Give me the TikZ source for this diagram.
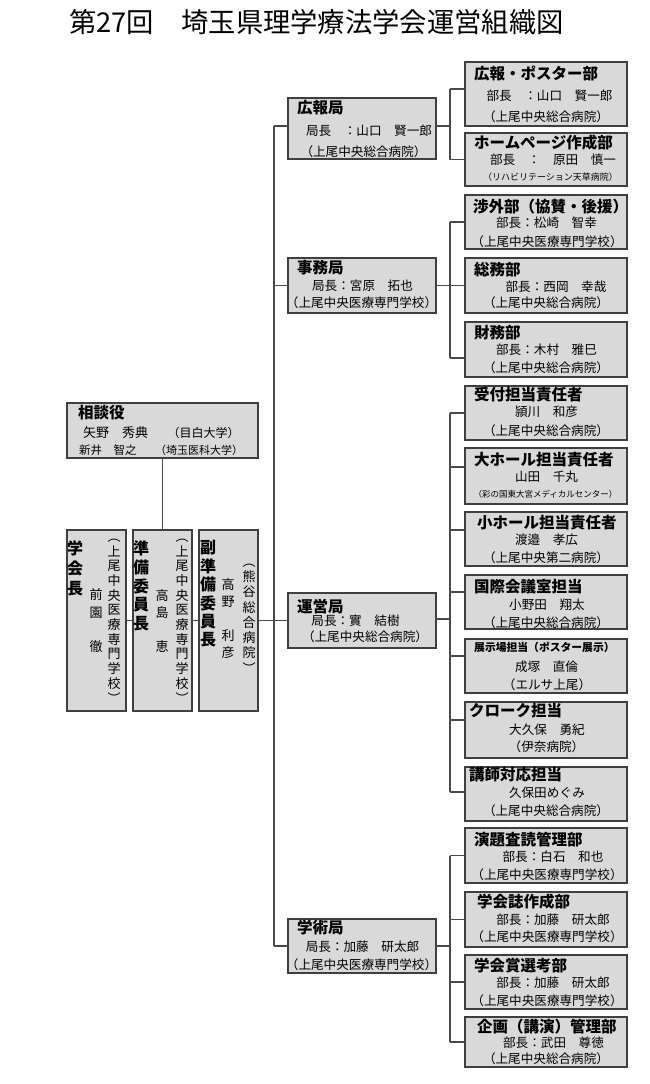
\documentclass[tikz,border=0pt]{standalone}
\usepackage{fontspec}
\setmainfont{Noto Sans CJK JP}
\definecolor{boxfill}{HTML}{D9D9D9}
\definecolor{boxline}{HTML}{3F3F3F}
\definecolor{conline}{HTML}{4A4A4A}
\newcommand\orgbox[5]{\node[orgb, minimum width={(#4-#2)*1pt}, minimum height={(#5-#3)*1pt}] (#1) at ({(#2+#4)/2},{(#3+#5)/2}) {};}
\newcommand\kid[2]{\coordinate (#1c) at ([yshift=#2pt]#1.west); \draw[conn] (#1c -| brx) -- (#1c);}
\tikzset{
  orgb/.style={draw=boxline, fill=boxfill, line width=1.2pt, inner sep=0pt, outer sep=0pt},
  hd/.style={anchor=west, inner sep=0pt, font=\bfseries\fontsize{15.5}{18}\selectfont, text height=13.4pt, text depth=2.1pt},
  hdsm/.style={anchor=west, inner sep=0pt, font=\bfseries\fontsize{10.8}{13}\selectfont, text height=9.4pt, text depth=1.5pt},
  bd/.style={inner sep=0pt, font=\fontsize{12.6}{15}\selectfont, text height=10.9pt, text depth=1.8pt},
  bdsm/.style={inner sep=0pt, font=\fontsize{9}{11}\selectfont, text height=7.8pt, text depth=1.3pt},
  bdxs/.style={inner sep=0pt, font=\fontsize{8.5}{10}\selectfont, text height=7.4pt, text depth=1.2pt},
  vt/.style={inner sep=0pt, align=center},
  conn/.style={draw=conline, line width=1.2pt},
}
\begin{document}
\begin{tikzpicture}[x=1pt, y=-1pt]
\useasboundingbox (0,0) rectangle (650,1084);
\node[anchor=west, inner sep=0pt, font=\fontsize{27.3}{30}\selectfont] (title) at (69,22) {第27回　埼玉県理学療法学会運営組織図};

% boxes
\orgbox{kp}{465}{62}{627}{126}
\orgbox{hp}{465}{133}{627}{186}
\orgbox{sg}{465}{195}{627}{249}
\orgbox{so}{465}{258}{627}{313}
\orgbox{zm}{465}{322}{627}{377}
\orgbox{uk}{465}{386}{627}{440}
\orgbox{dh}{465}{448}{627}{504}
\orgbox{sh}{465}{512}{627}{566}
\orgbox{kk}{465}{575}{627}{629}
\orgbox{tj}{465}{639}{627}{693}
\orgbox{ck}{465}{702}{627}{758}
\orgbox{ks}{465}{767}{627}{821}
\orgbox{en}{465}{828}{627}{883}
\orgbox{gs}{465}{892}{627}{947}
\orgbox{gh}{465}{955}{627}{1009}
\orgbox{kg}{465}{1017}{627}{1067}
\orgbox{koho}{288}{98}{436}{159}
\orgbox{jimu}{288}{258}{436}{313}
\orgbox{unei}{288}{593}{436}{648}
\orgbox{gaku}{288}{919}{436}{973}
\orgbox{sodan}{67}{403}{258}{458}
\orgbox{kaicho}{67}{530}{126}{711}
\orgbox{junbi}{133}{530}{192}{711}
\orgbox{fuku}{199}{530}{258}{711}

% connectors
\coordinate (spine) at (274,0);
\coordinate (brx) at (450,0);
\coordinate (kohoc) at ([yshift=2.5pt]koho.west);
\coordinate (kohoe) at ([yshift=2.5pt]koho.east);
\coordinate (jimuc) at (jimu.west);
\coordinate (uneic) at ([yshift=1.5pt]unei.west);
\coordinate (uneie) at ([yshift=1.5pt]unei.east);
\coordinate (gakuc) at (gaku.west);
\draw[conn] (kohoc -| spine) -- (gakuc -| spine);
\draw[conn] (kohoc) -- (kohoc -| spine);
\draw[conn] (jimuc) -- (jimuc -| spine);
\draw[conn] (gakuc) -- (gakuc -| spine);
\draw[conn] (fuku.east) -- (unei.west);
\draw[conn] (kaicho.east) -- (junbi.west);
\draw[conn] (junbi.east) -- (fuku.west);
\draw[conn] (sodan.south) -- (junbi.north);

\kid{kp}{5}\kid{hp}{0}
\draw[conn] (kohoe) -- (kohoe -| brx);
\draw[conn] (kpc -| brx) -- (hpc -| brx);
\kid{sg}{0}\kid{so}{0}\kid{zm}{-8.5}
\draw[conn] (jimu.east) -- (jimu.east -| brx);
\draw[conn] (sgc -| brx) -- (zmc -| brx);
\kid{uk}{0}\kid{dh}{9}\kid{sh}{9}\kid{kk}{10}\kid{tj}{10}\kid{ck}{10}\kid{ks}{2}
\draw[conn] (uneie) -- (uneie -| brx);
\draw[conn] (ukc -| brx) -- (ksc -| brx);
\kid{en}{0}\kid{gs}{0}\kid{gh}{0}\kid{kg}{0}
\draw[conn] (gaku.east) -- (gaku.east -| brx);
\draw[conn] (enc -| brx) -- (kgc -| brx);

% texts: right column
\node[hd] (kp1) at (474,74) {広報・ポスター部};
\node[bd] (kp2) at (549.5,96) {部長　：山口　賢一郎};
\node[bd] (kp3) at (546,117) {（上尾中央総合病院）};
\node[hd] (hp1) at (474,143) {ホームページ作成部};
\node[bd] (hp2) at (553,160) {部長　：　原田　慎一};
\node[bdsm] (hp3) at (550.5,177) {（リハビリテーション天草病院）};
\node[hd] (sg1) at (473,207) {渉外部（協賛・後援）};
\node[bd] (sg2) at (546.5,223) {部長：松崎　智幸};
\node[bd] (sg3) at (547,242) {（上尾中央医療専門学校）};
\node[hd] (so1) at (474,270) {総務部};
\node[bd] (so2) at (556,287) {部長：西岡　幸哉};
\node[bd] (so3) at (546,303) {（上尾中央総合病院）};
\node[hd] (zm1) at (474,333) {財務部};
\node[bd] (zm2) at (546.5,350) {部長：木村　雅巳};
\node[bd] (zm3) at (546,368) {（上尾中央総合病院）};
\node[hd] (uk1) at (474,395) {受付担当責任者};
\node[bd] (uk2) at (546.5,412) {頴川　和彦};
\node[bd] (uk3) at (546,431) {（上尾中央総合病院）};
\node[hd] (dh1) at (474,460) {大ホール担当責任者};
\node[bd] (dh2) at (546.5,477) {山田　千丸};
\node[bdxs] (dh3) at (545.5,494) {（彩の国東大宮メディカルセンター）};
\node[hd] (sh1) at (477,523) {小ホール担当責任者};
\node[bd] (sh2) at (546.5,540) {渡邉　孝広};
\node[bd] (sh3) at (546,558) {（上尾中央第二病院）};
\node[hd] (kk1) at (474,587) {国際会議室担当};
\node[bd] (kk2) at (547,605) {小野田　翔太};
\node[bd] (kk3) at (546,623) {（上尾中央総合病院）};
\node[hdsm] (tj1) at (474,648) {展示場担当（ポスター展示）};
\node[bd] (tj2) at (546.5,667) {成塚　直倫};
\node[bd] (tj3) at (547,685) {（エルサ上尾）};
\node[hd] (ck1) at (469,711) {クローク担当};
\node[bd] (ck2) at (547,730) {大久保　勇紀};
\node[bd] (ck3) at (546.5,747) {（伊奈病院）};
\node[hd] (ks1) at (469,775) {講師対応担当};
\node[bd] (ks2) at (547,793) {久保田めぐみ};
\node[bd] (ks3) at (546,811) {（上尾中央総合病院）};
\node[hd] (en1) at (474,840) {演題査読管理部};
\node[bd] (en2) at (553,857) {部長：白石　和也};
\node[bd] (en3) at (547,875) {（上尾中央医療専門学校）};
\node[hd] (gs1) at (477,902) {学会誌作成部};
\node[bd] (gs2) at (553,920) {部長：加藤　研太郎};
\node[bd] (gs3) at (547,937) {（上尾中央医療専門学校）};
\node[hd] (gh1) at (474,966) {学会賞選考部};
\node[bd] (gh2) at (553,983) {部長：加藤　研太郎};
\node[bd] (gh3) at (547,1001) {（上尾中央医療専門学校）};
\node[hd] (kg1) at (477,1027) {企画（講演）管理部};
\node[bd] (kg2) at (553.5,1043) {部長：武田　尊徳};
\node[bd] (kg3) at (546,1059) {（上尾中央総合病院）};

% middle column
\node[hd] (ko1) at (297,108) {広報局};
\node[bd] (ko2) at (369,131) {局長　：山口　賢一郎};
\node[bd] (ko3) at (363.5,152) {（上尾中央総合病院）};
\node[hd] (ji1) at (297,268) {事務局};
\node[bd] (ji2) at (362.5,286) {局長：宮原　拓也};
\node[bd] (ji3) at (361.5,303) {（上尾中央医療専門学校）};
\node[hd] (un1) at (297,607) {運営局};
\node[bd] (un2) at (355.5,621) {局長：實　結樹};
\node[bd] (un3) at (365,637) {（上尾中央総合病院）};
\node[hd] (ga1) at (297,928) {学術局};
\node[bd] (ga2) at (362.5,947) {局長：加藤　研太郎};
\node[bd] (ga3) at (361.5,965) {（上尾中央医療専門学校）};

% left
\node[hd] (so0) at (78,413) {相談役};
\node[bd, anchor=west, font=\fontsize{13}{15}\selectfont] (sd1) at (83,433) {矢野　秀典};
\node[bd, font=\fontsize{12}{14}\selectfont] (sd2) at (203.5,433) {（目白大学）};
\node[bd, anchor=west, font=\fontsize{11.5}{14}\selectfont] (sd3) at (79,450) {新井　智之};
\node[bd, font=\fontsize{11}{13}\selectfont] (sd4) at (199,450) {（埼玉医科大学）};

\node[vt, font=\bfseries\fontsize{16}{20}\selectfont] (kc1) at (75,568) {学\\会\\長};
\node[vt, font=\fontsize{13}{17.3}\selectfont] (kc2) at (96,621) {前\\園\\　\\徹};
\node[vt, font=\fontsize{13}{14.7}\selectfont] (kc3) at (114,621) {︵\\上\\尾\\中\\央\\医\\療\\専\\門\\学\\校\\︶};
\node[vt, font=\bfseries\fontsize{16}{18.75}\selectfont] (jb1) at (141,586) {準\\備\\委\\員\\長};
\node[vt, font=\fontsize{13}{17.3}\selectfont] (jb2) at (162,621) {高\\島\\　\\恵};
\node[vt, font=\fontsize{13}{14.7}\selectfont] (jb3) at (182,621) {︵\\上\\尾\\中\\央\\医\\療\\専\\門\\学\\校\\︶};
\node[vt, font=\bfseries\fontsize{16}{18.4}\selectfont] (fk1) at (208,594) {副\\準\\備\\委\\員\\長};
\node[vt, font=\fontsize{13}{17}\selectfont] (fk2) at (228,619) {高\\野\\　\\利\\彦};
\node[vt, font=\fontsize{13}{15.3}\selectfont] (fk3) at (249,618.5) {︵\\熊\\谷\\総\\合\\病\\院\\︶};
\end{tikzpicture}
\end{document}
